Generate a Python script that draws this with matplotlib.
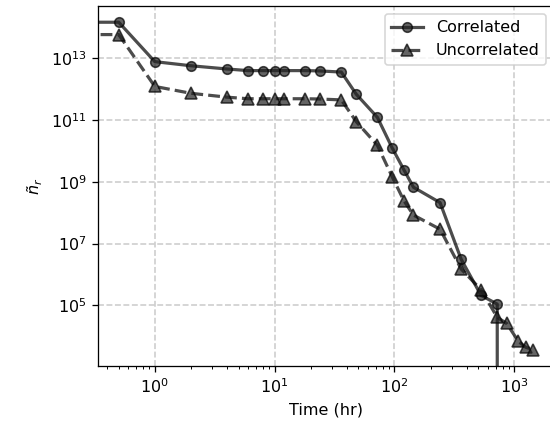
import numpy as np
import matplotlib
matplotlib.use("Agg")
import matplotlib.pyplot as plt
from matplotlib.ticker import NullLocator

# Data
time_corr = [0, 0.5, 1, 2, 4, 6, 8, 10, 12, 18, 24, 36, 48, 72, 96, 120, 144, 240, 360, 528, 720, 864]
corr = [1.43e14, 1.43e14, 7.6e12, 5.6e12, 4.4e12, 3.9e12, 3.9e12, 3.9e12, 3.9e12, 3.9e12, 3.8e12,
        3.5e12, 6.7e11, 1.2e11, 1.2e10, 2.4e9, 6.6e8, 2.1e8, 3.1e6, 2.1e5, 1.1e5, 0]

time_unc = [0, 0.5, 1, 2, 4, 6, 8, 10, 12, 18, 24, 36, 48, 72, 96, 120, 144, 240, 360, 528, 720, 864, 1080, 1248, 1440]
unc = [5.7e13, 5.7e13, 1.2e12, 7.2e11, 5.4e11, 4.8e11, 4.8e11, 4.8e11, 4.8e11, 4.8e11, 4.7e11,
       4.4e11, 8.7e10, 1.5e10, 1.4e9, 2.4e8, 8.3e7, 2.9e7, 1.5e6, 3.2e5, 4.1e4, 2.6e4, 6.9e3, 4.4e3, 3.7e3]

labels = ["Correlated", "Uncorrelated"]
xlabel = "Time (hr)"
ylabel = r"$\tilde{n}_r$"
yticks = [1e5, 1e7, 1e9, 1e11, 1e13]

fig = plt.figure(figsize=(550 / 115, 433 / 115), dpi=115)
ax = fig.add_axes([98 / 550, 1 - 366 / 433, (554 - 98) / 550, (366 - 6) / 433])

ax.plot(time_corr, corr, '-o', color='k', alpha=0.7, lw=2, ms=6,
        mfc='#222222', mec='k', label=labels[0])
ax.plot(time_unc, unc, '--^', color='k', alpha=0.7, lw=2, ms=7,
        mfc='#222222', mec='k', label=labels[1])

ax.set_xscale('log')
ax.set_yscale('log')
ax.set_xlim(10 ** -0.474, 10 ** 3.331)
ax.set_ylim(10 ** 3.04, 10 ** 14.68)
ax.set_yticks(yticks)
ax.yaxis.set_minor_locator(NullLocator())

ax.grid(True, which='major', linestyle='--', color='#cccccc', linewidth=1)
ax.set_axisbelow(True)
ax.set_xlabel(xlabel)
ax.set_ylabel(ylabel)
ax.legend(loc='upper right')

fig.savefig("out.png", dpi=115)
